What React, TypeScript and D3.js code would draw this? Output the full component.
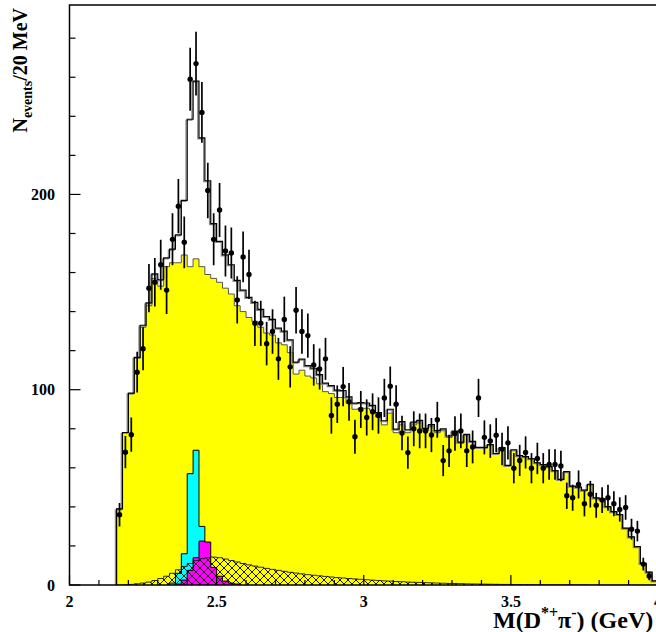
import React, { useEffect, useRef } from 'react';
import * as d3 from 'd3';

// histogram binning: 20 MeV bins starting at 2.16 GeV
const binStart = 2.16;
const binWidth = 0.02;

// combinatorial background (yellow)
const background = [
  39, 78, 98, 116, 132, 143, 157, 153, 163, 165,
  165, 169, 163, 167, 163, 159, 157, 155, 152, 149,
  143, 140, 137, 135, 132, 129, 128, 124, 123, 119,
  108, 110, 107, 106, 103, 99, 98, 96, 96, 93,
  90, 90.5, 90.5, 89.5, 86, 82, 88, 78, 82, 78,
  82, 83, 79, 81, 78, 79, 75.5, 78, 72.5, 76.5,
  73, 70, 70, 71.5, 67, 70, 61, 69, 66, 65.5,
  64.5, 62.5, 61.5, 60.5, 58.5, 54, 58, 50.5, 50, 48.5,
  51.5, 44.5, 44, 40, 37.5, 36, 29, 24.5, 19.5, 11,
  6.5, 2,
];

// broad D1 component (hatched)
const broadD1 = [
  0, 0.1, 0.3, 0.6, 1, 1.5, 2.3, 3.3, 4.5, 6,
  7.8, 9.5, 11, 12.5, 13.5, 14, 14.3, 14, 13.3, 12.5,
  11.8, 11, 10.3, 9.7, 9.1, 8.5, 8, 7.5, 7, 6.5,
  6.1, 5.7, 5.3, 5, 4.7, 4.4, 4.1, 3.8, 3.6, 3.3,
  3.1, 2.9, 2.7, 2.5, 2.3, 2.1, 2, 1.8, 1.7, 1.5,
  1.4, 1.3, 1.2, 1.1, 1, 0.9, 0.8, 0.75, 0.7, 0.6,
  0.55, 0.5, 0.45, 0.4, 0.35, 0.3, 0.3, 0.25, 0.2, 0.2,
  0.15, 0.1, 0.1, 0.1, 0.1, 0.1, 0.1, 0.1, 0.1, 0.1,
  0, 0, 0, 0, 0, 0, 0, 0, 0, 0,
  0, 0,
];

// narrow D1(2420) component (cyan), bins 9..17
const narrowD1 = [1, 6, 16, 57, 69, 30, 10, 3, 1];
const narrowD1First = 9;

// D2*(2460) component (magenta), bins 10..20
const narrowD2 = [0.5, 2.5, 7.5, 14, 22.5, 22, 9, 4.5, 2, 1, 0.5];
const narrowD2First = 10;

// total fit (black line)
const fitTotal = [
  39, 78.1, 98.3, 116.6, 133, 144.5, 159.3, 156.3, 167.5, 172,
  179.3, 197, 238.5, 258, 229, 207, 185, 176, 169, 164,
  156, 151, 147.3, 144.7, 141.1, 137.5, 136, 131.5, 130, 125.5,
  114.1, 115.7, 112.3, 111, 107.7, 103.4, 102.1, 99.8, 99.6, 96.3,
  93.1, 93.4, 93.2, 92, 88.3, 84.1, 90, 79.8, 83.7, 79.5,
  83.4, 84.3, 80.2, 82.1, 79, 79.9, 76.3, 78.75, 73.2, 77.1,
  73.55, 70.5, 70.45, 71.9, 67.35, 70.3, 61.3, 69.25, 66.2, 65.7,
  64.65, 62.6, 61.6, 60.6, 58.6, 54.1, 58.1, 50.6, 50.1, 48.6,
  51.6, 44.6, 44.1, 40.1, 37.6, 36.1, 29.1, 24.6, 19.6, 11.1,
  6.6, 2.1,
];

// data points (events per bin)
const dataCounts = [
  36, 68, 77, 109, 121, 152, 155, 164, 151, 177,
  194, 175.5, 259, 267, 242, 202, 177, 192, 171, 170,
  146, 168, 159, 134, 134, 123.6, 129.8, 115.8, 136, 111.7,
  140.7, 129.8, 127.7, 112.7, 110.6, 115.8, 86.8, 92.6, 101.6, 93.8,
  75.9, 89.9, 85.8, 88.7, 86.8, 95.8, 101.8, 92.6, 77.8, 67.8,
  80, 78.9, 78.9, 76.8, 84.6, 63.7, 68.7, 77.6, 78.9, 68.7,
  70.7, 95.8, 75.6, 73.7, 76.7, 69.6, 72.8, 59.8, 63.8, 67.9,
  59.8, 64.8, 59.8, 61.7, 61.7, 60.9, 45.7, 44.7, 51.5, 41.6,
  46.5, 40.8, 43.5, 44.7, 41.6, 38.7, 39.7, 28.6, 27.6, 10.7,
  4.6,
];

const xTickLabels = ['2', '2.5', '3', '3.5', '4'];
const yTickLabels = ['0', '100', '200'];

const W = 656;
const H = 632;
const FONT = '"Liberation Serif", "Times New Roman", serif';

const App: React.FC = () => {
  const svgRef = useRef<SVGSVGElement>(null);

  useEffect(() => {
    if (!svgRef.current) return;
    const svg = d3.select(svgRef.current);
    svg.selectAll('*').remove();

    const x = d3.scaleLinear().domain([2, 4]).range([69.5, 658]);
    const y = d3.scaleLinear().domain([0, 297]).range([585, 5]);

    const defs = svg.append('defs');
    const pat = defs.append('pattern')
      .attr('id', 'xhatch')
      .attr('patternUnits', 'userSpaceOnUse')
      .attr('width', 8)
      .attr('height', 8);
    pat.append('path')
      .attr('d', 'M0,0L8,8M8,0L0,8M-1,1L1,-1M7,9L9,7M-1,7L1,9M7,-1L9,1')
      .attr('stroke', '#000')
      .attr('stroke-width', 0.9);

    defs.append('clipPath').attr('id', 'frame')
      .append('rect').attr('x', 69.5).attr('y', 5).attr('width', 600).attr('height', 580);

    const stepLine = d3.line<[number, number]>()
      .x(d => x(d[0]))
      .y(d => y(d[1]))
      .curve(d3.curveStepAfter);

    const stepPoints = (vals: number[], first = 0): [number, number][] => {
      const lo = binStart + first * binWidth;
      const pts: [number, number][] = [[lo, 0]];
      vals.forEach((v, i) => pts.push([lo + i * binWidth, v]));
      pts.push([lo + vals.length * binWidth, vals[vals.length - 1]]);
      pts.push([lo + vals.length * binWidth, 0]);
      return pts;
    };

    const plot = svg.append('g').attr('clip-path', 'url(#frame)');

    // background
    plot.append('path')
      .attr('d', stepLine(stepPoints(background)))
      .attr('fill', '#ffff00')
      .attr('stroke', '#555')
      .attr('stroke-width', 1);

    // narrow D1
    plot.append('path')
      .attr('d', stepLine(stepPoints(narrowD1, narrowD1First)))
      .attr('fill', '#00ffff')
      .attr('stroke', '#000')
      .attr('stroke-width', 1);

    // D2*
    plot.append('path')
      .attr('d', stepLine(stepPoints(narrowD2, narrowD2First)))
      .attr('fill', '#ff00ff')
      .attr('stroke', '#000')
      .attr('stroke-width', 1);

    // broad D1, hatched
    plot.append('path')
      .attr('d', stepLine(stepPoints(broadD1)))
      .attr('fill', 'url(#xhatch)')
      .attr('stroke', '#000')
      .attr('stroke-width', 0.8);

    // total fit: gray shadow + black line
    const totalPath = stepLine(stepPoints(fitTotal));
    plot.append('path')
      .attr('d', totalPath)
      .attr('fill', 'none')
      .attr('stroke', '#888')
      .attr('stroke-width', 1.2)
      .attr('transform', 'translate(-1.2,1)');
    plot.append('path')
      .attr('d', totalPath)
      .attr('fill', 'none')
      .attr('stroke', '#000')
      .attr('stroke-width', 1.2);

    // data points with sqrt(N) errors
    const pts = plot.append('g');
    dataCounts.forEach((n, i) => {
      const cx = x(binStart + (i + 0.5) * binWidth);
      const err = Math.sqrt(n);
      pts.append('line')
        .attr('x1', cx).attr('x2', cx)
        .attr('y1', y(n - err)).attr('y2', y(n + err))
        .attr('stroke', '#000')
        .attr('stroke-width', 1.7);
      pts.append('circle')
        .attr('cx', cx).attr('cy', y(n))
        .attr('r', 2.7)
        .attr('fill', '#000');
    });

    // frame and ticks
    const axes = svg.append('g').attr('stroke', '#000');
    axes.append('rect')
      .attr('x', 69.5).attr('y', 5)
      .attr('width', 658 - 69.5).attr('height', 580)
      .attr('fill', 'none')
      .attr('stroke-width', 1.5);

    d3.range(0, 21).forEach(k => {
      const v = 2 + k * 0.1;
      const len = k % 5 === 0 ? 10 : 5;
      axes.append('line')
        .attr('x1', x(v)).attr('x2', x(v))
        .attr('y1', 585).attr('y2', 585 - len)
        .attr('stroke-width', 1.2);
    });
    d3.range(0, 15).forEach(k => {
      const v = k * 20;
      const len = k % 5 === 0 ? 11 : 6;
      axes.append('line')
        .attr('x1', 69.5).attr('x2', 69.5 + len)
        .attr('y1', y(v)).attr('y2', y(v))
        .attr('stroke-width', 1.2);
    });

    const labels = svg.append('g')
      .attr('font-family', FONT)
      .attr('font-weight', 'bold')
      .attr('fill', '#000');

    xTickLabels.forEach(t => {
      labels.append('text')
        .attr('x', x(+t))
        .attr('y', 607)
        .attr('text-anchor', 'middle')
        .attr('font-size', 16)
        .text(t);
    });
    yTickLabels.forEach(t => {
      labels.append('text')
        .attr('x', 55)
        .attr('y', y(+t))
        .attr('dy', '0.35em')
        .attr('text-anchor', 'end')
        .attr('font-size', 16)
        .text(t);
    });

    // x title
    const xt = labels.append('text')
      .attr('x', 493)
      .attr('y', 628)
      .attr('font-size', 24);
    xt.append('tspan').text('M(D');
    xt.append('tspan').attr('dy', -10).attr('font-size', 16).text('*+');
    xt.append('tspan').attr('dy', 10).text('\u03c0');
    xt.append('tspan').attr('dy', -10).attr('font-size', 16).text('-');
    xt.append('tspan').attr('dy', 10).text(') (GeV)');

    // y title
    const yt = labels.append('text')
      .attr('transform', 'translate(27,8) rotate(-90)')
      .attr('text-anchor', 'end')
      .attr('font-size', 20);
    yt.append('tspan').text('N');
    yt.append('tspan').attr('dy', 5).attr('font-size', 14).text('events');
    yt.append('tspan').attr('dy', -5).text('/20 MeV');
  }, []);

  return (
    <svg
      ref={svgRef}
      width={W}
      height={H}
      style={{ position: 'absolute', left: 0, top: 0, background: '#fff' }}
    />
  );
};

export default App;
